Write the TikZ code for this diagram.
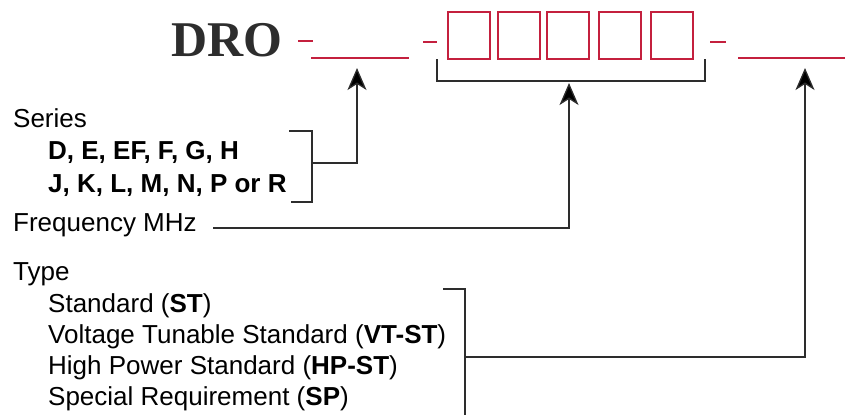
\documentclass[tikz,border=0pt]{standalone}
\usepackage{fontspec}
\setmainfont{Liberation Sans}
\newfontfamily\drofont{Liberation Serif}
\usetikzlibrary{arrows.meta}
\definecolor{slotred}{RGB}{196,32,62}
\definecolor{inkgray}{RGB}{45,45,45}

\begin{document}
\begin{tikzpicture}[x=1pt,y=-1pt]
\tikzstyle{label}=[anchor=base west,inner sep=0pt,font=\fontsize{26}{31}\selectfont]
\tikzstyle{slot_line}=[draw=slotred,line width=1.3pt]
\tikzstyle{slot_box}=[rectangle,draw=slotred,line width=1.3pt,minimum width=42pt,minimum height=47pt,inner sep=0pt]
\tikzstyle{bracket}=[draw=inkgray,line width=1.3pt]
\tikzstyle{pointer}=[bracket,-{Stealth[length=22pt,width=19pt,inset=6pt,fill=black]}]

\useasboundingbox (0,0) rectangle (845,415);

% part number
\node[anchor=base west,inner sep=0pt,text=inkgray,font=\drofont\bfseries\fontsize{50}{50}\selectfont] (dro) at (171,56) {DRO};
\draw[slot_line] (298,41) -- (313,41);
\draw[slot_line] (311,58) -- (409,58);
\draw[slot_line] (423,42) -- (437,42);
\foreach \n/\x in {1/469,2/519,3/568,4/620,5/672}
  \node[slot_box] (box\n) at (\x,35.5) {};
\draw[slot_line] (710,42) -- (726,42);
\draw[slot_line] (738,58) -- (845,58);

% texts
\node[label] (series) at (13,127) {Series};
\node[label] (series_a) at (48,159) {\textbf{D, E, EF, F, G, H}};
\node[label] (series_b) at (48,192) {\textbf{J, K, L, M, N, P or R}};
\node[label] (freq) at (13,231) {Frequency MHz};
\node[label] (type) at (13,280) {Type};
\node[label] (type_st) at (48,312) {Standard (\textbf{ST})};
\node[label] (type_vt) at (48,343) {Voltage Tunable Standard (\textbf{VT-ST})};
\node[label] (type_hp) at (48,374) {High Power Standard (\textbf{HP-ST})};
\node[label] (type_sp) at (48,405) {Special Requirement (\textbf{SP})};

% brackets and pointers
\coordinate (series_top) at (289,131);
\coordinate (series_bot) at (291,202);
\coordinate (series_mid) at (312,163);
\coordinate (series_tip) at (357,68);
\draw[bracket] (series_top) -- (312,131) -- (312,202) -- (series_bot);
\draw[pointer] (series_mid) -| (series_tip);

\coordinate (freq_left) at (437,59);
\coordinate (freq_right) at (705,59);
\coordinate (freq_start) at (213,228);
\coordinate (freq_tip) at (569,83);
\draw[bracket] (freq_left) -- (437,81) -- (705,81) -- (freq_right);
\draw[pointer] (freq_start) -| (freq_tip);

\coordinate (type_top) at (443,289);
\coordinate (type_mid) at (465,357);
\coordinate (type_tip) at (805,68);
\draw[bracket] (type_top) -- (465,289) -- (465,415);
\draw[pointer] (type_mid) -| (type_tip);

\end{tikzpicture}
\end{document}
